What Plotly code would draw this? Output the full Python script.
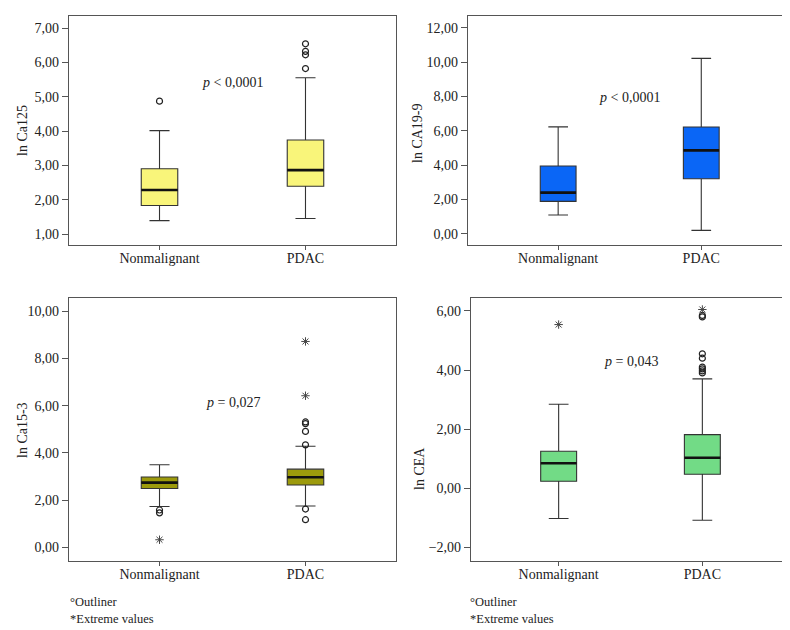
import plotly.graph_objects as go

# ---------------- data ----------------
categories = ["Nonmalignant", "PDAC"]
cat_pos = [0, 1]

# ln Ca125
ca125_q1 = [1.83, 2.39]
ca125_med = [2.28, 2.86]
ca125_q3 = [2.90, 3.74]
ca125_lo = [1.39, 1.45]
ca125_hi = [4.01, 5.55]
ca125_out_nonmal = [4.87]
ca125_out_pdac = [5.82, 6.22, 6.32, 6.54]
ca125_ext_nonmal = []
ca125_ext_pdac = []

# ln CA19-9
ca199_q1 = [1.88, 3.20]
ca199_med = [2.39, 4.85]
ca199_q3 = [3.94, 6.21]
ca199_lo = [1.09, 0.19]
ca199_hi = [6.22, 10.21]
ca199_out_nonmal = []
ca199_out_pdac = []
ca199_ext_nonmal = []
ca199_ext_pdac = []

# ln Ca15-3
ca153_q1 = [2.49, 2.64]
ca153_med = [2.74, 2.97]
ca153_q3 = [2.98, 3.31]
ca153_lo = [1.73, 1.75]
ca153_hi = [3.50, 4.28]
ca153_out_nonmal = [1.58, 1.46]
ca153_out_pdac = [1.17, 1.62, 4.34, 4.91, 5.24, 5.31]
ca153_ext_nonmal = [0.32]
ca153_ext_pdac = [6.42, 8.72]

# ln CEA
cea_q1 = [0.23, 0.47]
cea_med = [0.84, 1.03]
cea_q3 = [1.25, 1.81]
cea_lo = [-1.03, -1.09]
cea_hi = [2.84, 3.70]
cea_out_nonmal = []
cea_out_pdac = [3.90, 3.97, 4.04, 4.10, 4.40, 4.55, 5.80, 5.85]
cea_ext_nonmal = [5.54]
cea_ext_pdac = [6.05]

# tick labels
ca125_tickvals = [1, 2, 3, 4, 5, 6, 7]
ca125_ticktext = ["1,00", "2,00", "3,00", "4,00", "5,00", "6,00", "7,00"]
ca199_tickvals = [0, 2, 4, 6, 8, 10, 12]
ca199_ticktext = ["0,00", "2,00", "4,00", "6,00", "8,00", "10,00", "12,00"]
ca153_tickvals = [0, 2, 4, 6, 8, 10]
ca153_ticktext = ["0,00", "2,00", "4,00", "6,00", "8,00", "10,00"]
cea_tickvals = [-2, 0, 2, 4, 6]
cea_ticktext = ["\u22122,00", "0,00", "2,00", "4,00", "6,00"]

titles = ["ln Ca125", "ln CA19-9", "ln Ca15-3", "ln CEA"]
pvalues = ["<i>p</i> < 0,0001", "<i>p</i> < 0,0001", "<i>p</i> = 0,027", "<i>p</i> = 0,043"]
colors = ["#F9F57A", "#0A66F6", "#9C9A0C", "#72DB86"]
footnotes = ["\u00b0Outliner", "*Extreme values"]

# ---------------- figure ----------------
W, H = 790, 630
FONT = "Liberation Serif"
BOX_W = 0.25

panels = [
    dict(q1=ca125_q1, med=ca125_med, q3=ca125_q3, lo=ca125_lo, hi=ca125_hi,
         out=[ca125_out_nonmal, ca125_out_pdac], ext=[ca125_ext_nonmal, ca125_ext_pdac],
         tv=ca125_tickvals, tt=ca125_ticktext, yr=[0.68, 7.35], xr=[-0.62, 1.62],
         px=(61, 388), py=(8, 237), title_xy=(15, 123), p_xy=(0.5, 5.4)),
    dict(q1=ca199_q1, med=ca199_med, q3=ca199_q3, lo=ca199_lo, hi=ca199_hi,
         out=[ca199_out_nonmal, ca199_out_pdac], ext=[ca199_ext_nonmal, ca199_ext_pdac],
         tv=ca199_tickvals, tt=ca199_ticktext, yr=[-0.66, 12.68], xr=[-0.63, 1.62],
         px=(460, 782), py=(8, 237), title_xy=(410, 125), p_xy=(0.5, 7.96)),
    dict(q1=ca153_q1, med=ca153_med, q3=ca153_q3, lo=ca153_lo, hi=ca153_hi,
         out=[ca153_out_nonmal, ca153_out_pdac], ext=[ca153_ext_nonmal, ca153_ext_pdac],
         tv=ca153_tickvals, tt=ca153_ticktext, yr=[-0.58, 10.56], xr=[-0.62, 1.62],
         px=(61, 388), py=(290, 553), title_xy=(15, 422), p_xy=(0.5, 6.12)),
    dict(q1=cea_q1, med=cea_med, q3=cea_q3, lo=cea_lo, hi=cea_hi,
         out=[cea_out_nonmal, cea_out_pdac], ext=[cea_ext_nonmal, cea_ext_pdac],
         tv=cea_tickvals, tt=cea_ticktext, yr=[-2.47, 6.44], xr=[-0.61, 1.61],
         px=(463, 782), py=(290, 553), title_xy=(412, 461), p_xy=(0.5, 4.30)),
]

fig = go.Figure()
layout = dict(width=W, height=H, margin=dict(l=0, r=0, t=0, b=0),
              plot_bgcolor="white", paper_bgcolor="white", showlegend=False,
              font=dict(family=FONT, size=14, color="#222"))
annotations = []

for i, p in enumerate(panels):
    n = "" if i == 0 else str(i + 1)
    xa, ya = "x" + n, "y" + n
    fig.add_trace(go.Box(
        x=cat_pos, q1=p["q1"], median=p["med"], q3=p["q3"],
        lowerfence=p["lo"], upperfence=p["hi"],
        fillcolor=colors[i], line=dict(color="#333", width=1.1),
        width=BOX_W, whiskerwidth=0.55, boxpoints=False,
        xaxis=xa, yaxis=ya, hoverinfo="skip"))
    # thick median lines
    mx, my = [], []
    for c, m in zip(cat_pos, p["med"]):
        mx += [c - BOX_W / 2, c + BOX_W / 2, None]
        my += [m, m, None]
    fig.add_trace(go.Scatter(x=mx, y=my, mode="lines",
                             line=dict(color="#111", width=2.6),
                             xaxis=xa, yaxis=ya, hoverinfo="skip"))
    # outliers
    ox, oy, ex, ey = [], [], [], []
    for c, vals in zip(cat_pos, p["out"]):
        ox += [c] * len(vals)
        oy += vals
    for c, vals in zip(cat_pos, p["ext"]):
        ex += [c] * len(vals)
        ey += vals
    fig.add_trace(go.Scatter(x=ox, y=oy, mode="markers",
                             marker=dict(symbol="circle-open", size=6, color="#222",
                                         line=dict(color="#222", width=1.2)),
                             xaxis=xa, yaxis=ya, hoverinfo="skip"))
    fig.add_trace(go.Scatter(x=ex, y=ey, mode="markers",
                             marker=dict(symbol="asterisk-open", size=7, color="#444",
                                         line=dict(color="#444", width=1)),
                             xaxis=xa, yaxis=ya, hoverinfo="skip"))

    x0, x1 = p["px"]
    y0, y1 = p["py"]
    layout["xaxis" + n] = dict(
        domain=[x0 / W, x1 / W], anchor=ya, range=p["xr"],
        tickvals=cat_pos, ticktext=categories, ticks="outside", ticklen=4,
        tickcolor="#555", showline=True, linecolor="#555", linewidth=1.3,
        mirror=True, showgrid=False, zeroline=False, ticklabelstandoff=-4,
        tickfont=dict(family=FONT, size=14, color="#222"))
    layout["yaxis" + n] = dict(
        domain=[1 - y1 / H, 1 - y0 / H], anchor=xa, range=p["yr"],
        tickvals=p["tv"], ticktext=p["tt"], ticks="outside", ticklen=6,
        tickcolor="#555", showline=True, linecolor="#555", linewidth=1.3,
        mirror=True, showgrid=False, zeroline=False,
        tickfont=dict(family=FONT, size=14, color="#222"))

    tx, ty = p["title_xy"]
    annotations.append(dict(text=titles[i], x=tx / W, y=1 - ty / H,
                            xref="paper", yref="paper", textangle=-90,
                            showarrow=False, xanchor="center", yanchor="middle",
                            font=dict(family=FONT, size=14, color="#222")))
    annotations.append(dict(text=pvalues[i], x=p["p_xy"][0], y=p["p_xy"][1],
                            xref=xa, yref=ya, showarrow=False,
                            xanchor="center", yanchor="middle",
                            font=dict(family=FONT, size=14, color="#222")))

# footnotes
for fx in (60, 460):
    for k, fy in enumerate((594, 611)):
        annotations.append(dict(text=footnotes[k],
                                x=fx / W, y=1 - fy / H,
                                xref="paper", yref="paper", showarrow=False,
                                xanchor="left", yanchor="middle",
                                font=dict(family=FONT, size=12.5, color="#222")))

layout["annotations"] = annotations
fig.update_layout(**layout)
fig.write_html("out.html")
